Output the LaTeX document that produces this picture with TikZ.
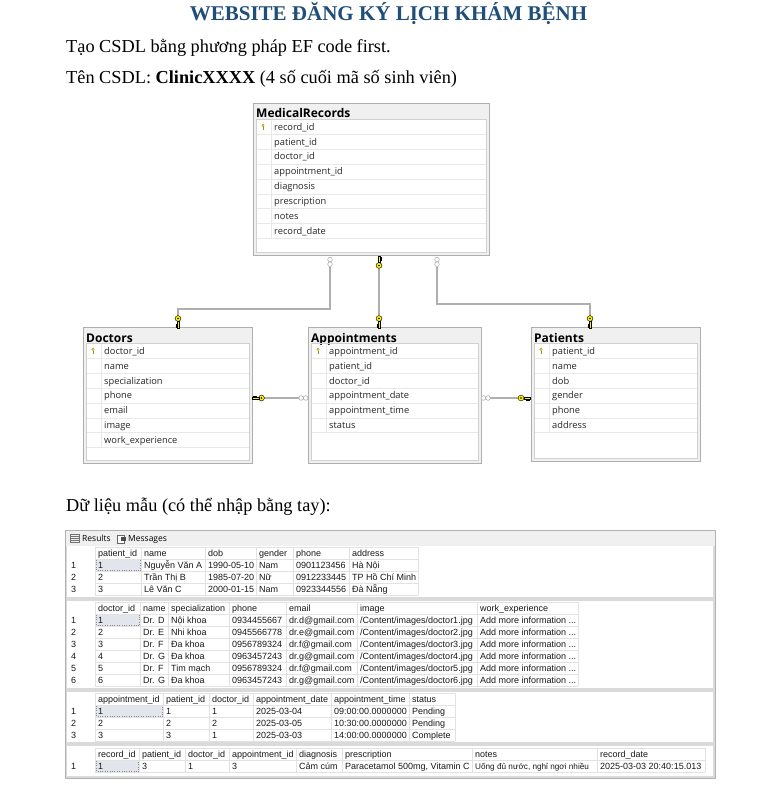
\documentclass[tikz,border=0pt]{standalone}
\usepackage{fontspec}
\setmainfont{Liberation Serif}
\newfontfamily\erfont{Open Sans}
\newfontfamily\gridfont{Liberation Sans}
\definecolor{titleblue}{RGB}{31,78,121}
\definecolor{keyyellow}{RGB}{255,242,0}
\definecolor{hdrgray}{RGB}{240,240,240}
\definecolor{bordergray}{RGB}{175,175,175}
\definecolor{rowlinec}{RGB}{232,232,232}
\definecolor{relgray}{RGB}{175,175,175}
\definecolor{glinec}{RGB}{226,226,226}
\definecolor{selfill}{RGB}{226,229,235}
\definecolor{panelgray}{RGB}{218,218,218}
\definecolor{pkolive}{RGB}{150,140,40}
\tikzset{
  tblbox/.style={draw=bordergray, fill=hdrgray, inner sep=0pt, outer sep=0pt, line width=0.8pt},
  rowln/.style={draw=rowlinec, line width=0.5pt},
  tbltitle/.style={anchor=base west, inner sep=0pt, font=\erfont\bfseries\fontsize{12}{13}\selectfont},
  erow/.style={anchor=base west, inner sep=0pt, font=\erfont\fontsize{9.3}{10}\selectfont, text=black!85},
  rel/.style={draw=relgray, line width=1.3pt},
  gt/.style={anchor=base west, inner sep=0pt, font=\gridfont\fontsize{9}{10}\selectfont, text=black!90},
  gline/.style={draw=glinec, line width=0.5pt},
  para/.style={anchor=base west, inner sep=0pt, font=\fontsize{18.3}{21}\selectfont},
  keyic/.pic={
    \draw[fill=keyyellow, line width=0.4pt] (0,0) circle (2.9pt);
    \fill[black] (0,0) circle (0.8pt);
    \draw[fill=keyyellow, line width=0.4pt] (2.8,-0.9) -- (9.5,-0.9) -- (9.5,0.9) -- (8.5,0.9) -- (8.5,2.3) -- (7.4,2.3) -- (7.4,0.9) -- (6.3,0.9) -- (6.3,1.9) -- (5.3,1.9) -- (5.3,0.9) -- (2.8,0.9) -- cycle;
  },
  infic/.pic={
    \draw[relgray, fill=white, line width=0.6pt] (0,0) circle (2.3pt) (4.6,0) circle (2.3pt);
  },
  pkic/.pic={
    \draw[pkolive, line width=0.6pt] (0,-0.5) -- (0,2.6);
    \draw[draw=pkolive, fill=keyyellow, line width=0.3pt] (0,-1.6) circle (1.2pt);
  }
}
% #1 name, #2 left, #3 top, #4 right, #5 bottom, #6 title, #7 rows
\newcommand\ertbl[7]{%
  \node[tblbox, anchor=north west, minimum width={(#4-#2)*1pt}, minimum height={(#5-#3)*1pt}] (#1) at (#2,#3) {};
  \fill[white] ({#2+3},{#3+16}) rectangle ({#4-3},{#5-3});
  \node[tbltitle] (#1-t) at ({#2+3},{#3+15}) {#6};
  \foreach \r [count=\i] in {#7} {
    \node[erow] (#1-\i) at ({#2+21},{#3+27.3+(\i-1)*14.85}) {\r};
    \draw[rowln] ({#2+3},{#3+31.4+(\i-1)*14.85}) -- ({#4-3},{#3+31.4+(\i-1)*14.85});
    \xdef\lastrow{\i}
  }
  \draw[rowln] ({#2+18},{#3+16}) -- ({#2+18},{#3+16.5+\lastrow*14.85});
  \draw[draw=black!18, line width=0.5pt] ({#2+3},{#3+16}) rectangle ({#4-3},{#5-3});
  \pic at ({#2+10},{#3+24}) {pkic};
}
% #1 name, #2 x-array, #3 baseline y, #4 cells
\newcommand\grow[4]{%
  \foreach \t [count=\i] in {#4} {
    \pgfmathsetmacro\xx{#2[\i-1]}
    \node[gt] (#1-\i) at (\xx,#3) {\t};
  }
}
% #1 ytop, #2 nrows, #3 bounds, #4 xend, #5 second bound
\newcommand\gridlines[5]{%
  \fill[selfill] (96,{#1+12}) rectangle (#5,{#1+24});
  \draw[black!45, line width=0.4pt, dotted] (96.5,{#1+12.5}) rectangle ({#5-0.5},{#1+23.5});
  \foreach \k in {0,...,#2} { \draw[gline] (95,{#1+12*\k}) -- (#4,{#1+12*\k}); }
  \foreach \xb in {#3} { \draw[gline] (\xb,#1) -- (\xb,{#1+12*#2}); }
}
\def\cA{{98,144,208,259,296,352}}
\def\cB{{98,143,171,232,289,360,480}}
\def\cC{{98,166,212,256,334,412}}
\def\cD{{98,142,188,232,299,345,475,600}}
\def\amore{Add more information ...}
\begin{document}
\begin{tikzpicture}[x=1pt,y=-1pt]
\useasboundingbox (0,0) rectangle (760,799);
\fill[white] (0,0) rectangle (760,799);

% ---------- texts ----------
\node[anchor=base, inner sep=0pt, font=\bfseries\fontsize{21}{24}\selectfont, text=titleblue] (title) at (388.5,21) {WEBSITE ĐĂNG KÝ LỊCH KHÁM BỆNH};
\node[para] (line1) at (66,53) {Tạo CSDL bằng phương pháp EF code first.};
\node[para] (line2) at (66,84) {Tên CSDL: \textbf{ClinicXXXX} (4 số cuối mã số sinh viên)};
\node[para] (line3) at (66,511) {Dữ liệu mẫu (có thể nhập bằng tay):};

% ---------- ER diagram ----------
\ertbl{mr}{253}{103}{489}{255}{MedicalRecords}{record\_id,patient\_id,doctor\_id,appointment\_id,diagnosis,prescription,notes,record\_date}
\ertbl{doc}{83}{327}{252}{463}{Doctors}{doctor\_id,name,specialization,phone,email,image,work\_experience}
\ertbl{app}{308}{327}{481}{463}{Appointments}{appointment\_id,patient\_id,doctor\_id,appointment\_date,appointment\_time,status}
\ertbl{pat}{531}{327}{700}{461}{Patients}{patient\_id,name,dob,gender,phone,address}

% relationships
\coordinate (r1a) at (330,266.6);
\coordinate (r1b) at (178,309);
\coordinate (r1c) at (178,316.5);
\draw[rel] (r1a) |- (r1b) -- (r1c);
\pic[rotate=-90] at (330,259.6) {infic};
\pic[rotate=-90] at (178,318.5) {keyic};

\coordinate (r2a) at (379,268);
\coordinate (r2b) at (379,316.5);
\draw[rel] (r2a) -- (r2b);
\pic[rotate=90] at (379,265.5) {keyic};
\pic[rotate=-90] at (379,318.5) {keyic};

\coordinate (r3a) at (437,266.6);
\coordinate (r3b) at (590,304);
\coordinate (r3c) at (590,316.5);
\draw[rel] (r3a) |- (r3b) -- (r3c);
\pic[rotate=-90] at (437,259.6) {infic};
\pic[rotate=-90] at (590,318.5) {keyic};

\coordinate (r4a) at (263.5,398);
\coordinate (r4b) at (298.8,398);
\draw[rel] (r4a) -- (r4b);
\pic[rotate=180] at (261.5,398) {keyic};
\pic at (301.1,398) {infic};

\coordinate (r5a) at (490.3,398);
\coordinate (r5b) at (518.5,398);
\draw[rel] (r5a) -- (r5b);
\pic at (483.4,398) {infic};
\pic at (521,398) {keyic};

% ---------- results panel ----------
\node[draw=black!30, fill=panelgray, anchor=north west, inner sep=0pt, outer sep=0pt, minimum width=650pt, minimum height=248pt, line width=0.6pt] (res) at (65,530) {};
\fill[hdrgray] (65.5,530.5) rectangle (714.5,546);
\fill[white] (67,546) rectangle (713,597);
\fill[white] (67,601) rectangle (713,688);
\fill[white] (67,692) rectangle (713,742);
\fill[white] (67,746) rectangle (713,776);

% tab bar
\draw[black!55, line width=0.5pt] (70.5,534.5) rectangle (79.5,542.5);
\foreach \yy in {536.5,538.5,540.5} { \draw[black!55, line width=0.5pt] (71,\yy) -- (79,\yy); }
\node[anchor=base west, inner sep=0pt, font=\erfont\fontsize{8.5}{10}\selectfont] (tabres) at (82,541.5) {Results};
\draw[black!60, fill=white, line width=0.5pt] (117.5,535) rectangle (124.5,543);
\fill[black!70] (121,537) rectangle (126,541);
\node[anchor=base west, inner sep=0pt, font=\erfont\fontsize{8.5}{10}\selectfont] (tabmsg) at (128,541.5) {Messages};

% section 1: patients
\gridlines{547}{4}{95,141,205,256,293,349,418}{418}{141}
\grow{pa0}{\cA}{556.2}{patient\_id,name,dob,gender,phone,address}
\grow{pa1}{\cA}{568.2}{1,Nguyễn Văn A,1990-05-10,Nam,0901123456,Hà Nội}
\grow{pa2}{\cA}{580.2}{2,Trần Thị B,1985-07-20,Nữ,0912233445,TP Hồ Chí Minh}
\grow{pa3}{\cA}{592.2}{3,Lê Văn C,2000-01-15,Nam,0923344556,Đà Nẵng}
\node[gt] (pn1) at (71,568.2) {1};
\node[gt] (pn2) at (71,580.2) {2};
\node[gt] (pn3) at (71,592.2) {3};

% section 2: doctors
\gridlines{602}{7}{95,140,168,229,286,357,477,578}{578}{140}
\grow{do0}{\cB}{611.2}{doctor\_id,name,specialization,phone,email,image,work\_experience}
\grow{do1}{\cB}{623.2}{1,Dr. D,Nội khoa,0934455667,dr.d@gmail.com,/Content/images/doctor1.jpg,\amore}
\grow{do2}{\cB}{635.2}{2,Dr. E,Nhi khoa,0945566778,dr.e@gmail.com,/Content/images/doctor2.jpg,\amore}
\grow{do3}{\cB}{647.2}{3,Dr. F,Đa khoa,0956789324,dr.f@gmail.com,/Content/images/doctor3.jpg,\amore}
\grow{do4}{\cB}{659.2}{4,Dr. G,Đa khoa,0963457243,dr.g@gmail.com,/Content/images/doctor4.jpg,\amore}
\grow{do5}{\cB}{671.2}{5,Dr. F,Tim mạch,0956789324,dr.f@gmail.com,/Content/images/doctor5.jpg,\amore}
\grow{do6}{\cB}{683.2}{6,Dr. G,Đa khoa,0963457243,dr.g@gmail.com,/Content/images/doctor6.jpg,\amore}
\foreach \n in {1,...,6} { \node[gt] (dn\n) at (71,{611.2+12*\n}) {\n}; }

% section 3: appointments
\gridlines{693}{4}{95,163,209,253,331,409,455}{455}{163}
\grow{ap0}{\cC}{702.2}{appointment\_id,patient\_id,doctor\_id,appointment\_date,appointment\_time,status}
\grow{ap1}{\cC}{714.2}{1,1,1,2025-03-04,09:00:00.0000000,Pending}
\grow{ap2}{\cC}{726.2}{2,2,2,2025-03-05,10:30:00.0000000,Pending}
\grow{ap3}{\cC}{738.2}{3,3,1,2025-03-03,14:00:00.0000000,Complete}
\foreach \n in {1,2,3} { \node[gt] (an\n) at (71,{702.2+12*\n}) {\n}; }

% section 4: medical records
\gridlines{748}{2}{95,139,185,229,296,342,472,597,705}{705}{139}
\grow{mr0}{\cD}{757.2}{record\_id,patient\_id,doctor\_id,appointment\_id,diagnosis,prescription,notes,record\_date}
\grow{mr1}{\cD}{769.2}{1,3,1,3,Cảm cúm,{Paracetamol 500mg, Vitamin C},{\fontsize{8.2}{10}\selectfont Uống đủ nước, nghỉ ngơi nhiều},2025-03-03 20:40:15.013}
\node[gt] (mn1) at (71,769.2) {1};
\end{tikzpicture}
\end{document}
